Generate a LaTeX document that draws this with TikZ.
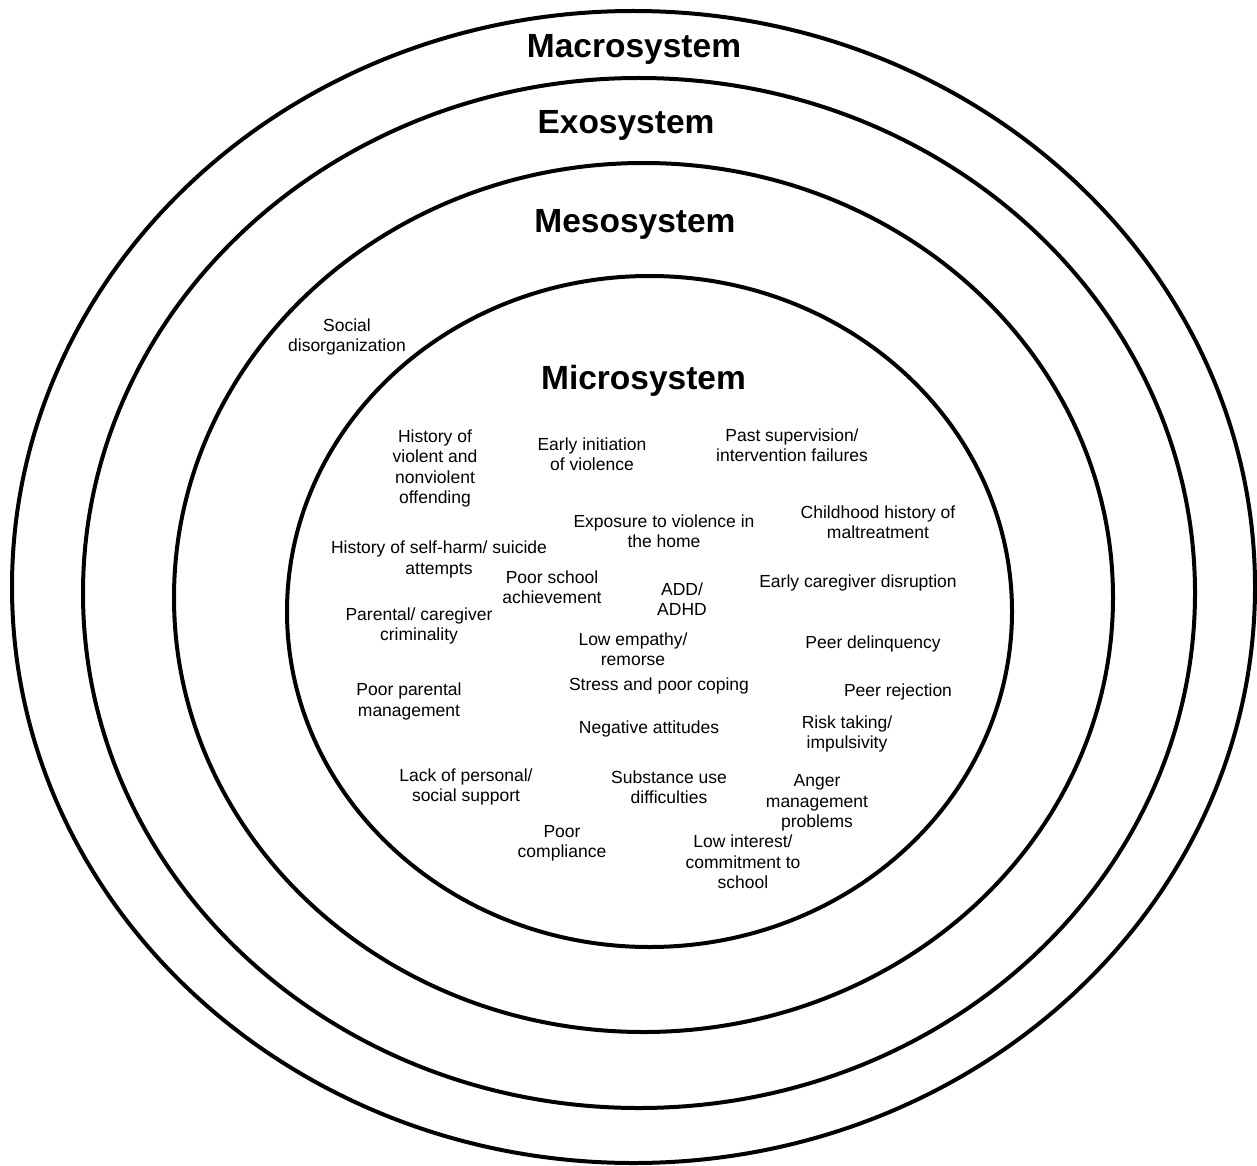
\documentclass[tikz,border=0pt]{standalone}
\usepackage{fontspec}
\setmainfont{Liberation Sans}
\begin{document}
\begin{tikzpicture}[x=1pt,y=-1pt,
  ring/.style={draw=black,line width=4pt},
  layer/.style={font=\fontsize{33.5}{38}\selectfont\bfseries,anchor=base,inner sep=0pt},
  factor/.style={font=\fontsize{17.5}{20.3}\selectfont,align=center,inner sep=0pt}]
\useasboundingbox (0,0) rectangle (1257,1166);

% nested system rings
\draw[ring] (633.5,587) ellipse [x radius=621.5pt, y radius=576pt];
\draw[ring] (639,593) ellipse [x radius=556pt, y radius=515pt];
\draw[ring] (643.5,597.5) ellipse [x radius=469.5pt, y radius=434.5pt];
\draw[ring] (649.5,611.5) ellipse [x radius=362.5pt, y radius=335.5pt];

% system names
\node[layer] (macro) at (634,58) {Macrosystem};
\node[layer] (exo) at (626,134) {Exosystem};
\node[layer] (meso) at (635,233) {Mesosystem};
\node[layer] (micro) at (643.5,389) {Microsystem};

% mesosystem factor
\node[factor] (social) at (347,337) {Social\\disorganization};

% microsystem factors
\node[factor] (hist) at (435,468.5) {History of\\violent and\\nonviolent\\offending};
\node[factor] (early) at (592,454.5) {Early initiation\\of violence};
\node[factor] (past) at (792,445.5) {Past supervision/\\intervention failures};
\node[factor] (expo) at (664,531) {Exposure to violence in\\the home};
\node[factor] (child) at (878,522) {Childhood history of\\maltreatment};
\node[factor] (self) at (439,559.5) {History of self-harm/ suicide\\attempts};
\node[factor] (school) at (552,587.5) {Poor school\\achievement};
\node[factor] (adhd) at (682,599.5) {ADD/\\ADHD};
\node[factor] (ecd) at (858,583) {Early caregiver disruption};
\node[factor] (parent) at (419,626) {Parental/ caregiver\\criminality};
\node[factor] (empathy) at (633,649) {Low empathy/\\remorse};
\node[factor] (peerdel) at (873,644) {Peer delinquency};
\node[factor] (ppm) at (409,701.5) {Poor parental\\management};
\node[factor] (stress) at (659,686) {Stress and poor coping};
\node[factor] (peerrej) at (898,692) {Peer rejection};
\node[factor] (neg) at (649,729) {Negative attitudes};
\node[factor] (risk) at (847,734) {Risk taking/\\impulsivity};
\node[factor] (lack) at (466,787) {Lack of personal/\\social support};
\node[factor] (subst) at (669,787) {Substance use\\difficulties};
\node[factor] (anger) at (817,803) {Anger\\management\\problems};
\node[factor] (compl) at (562,843) {Poor\\compliance};
\node[factor] (lowint) at (743,862) {Low interest/\\commitment to\\school};
\end{tikzpicture}
\end{document}
